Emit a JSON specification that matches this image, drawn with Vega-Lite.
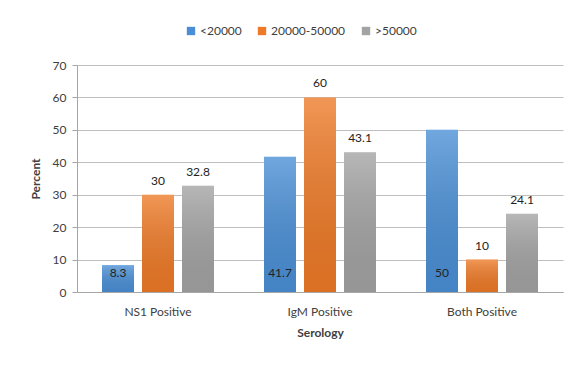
{
  "$schema": "https://vega.github.io/schema/vega-lite/v6.json",
  "width": 486,
  "height": 227,
  "autosize": {"type": "none"},
  "padding": {"left": 77, "top": 65, "right": 13, "bottom": 73},
  "background": "white",
  "config": {
    "font": "Lato",
    "view": {"stroke": null},
    "axis": {"labelColor": "#404040", "titleColor": "#404040", "labelFontSize": 12, "titleFontSize": 12, "titleFontWeight": "bold"}
  },
  "data": {
    "values": [
      {"serology": "NS1 Positive", "group": "<20000", "pct": 8.3},
      {"serology": "NS1 Positive", "group": "20000-50000", "pct": 30},
      {"serology": "NS1 Positive", "group": ">50000", "pct": 32.8},
      {"serology": "IgM Positive", "group": "<20000", "pct": 41.7},
      {"serology": "IgM Positive", "group": "20000-50000", "pct": 60},
      {"serology": "IgM Positive", "group": ">50000", "pct": 43.1},
      {"serology": "Both Positive", "group": "<20000", "pct": 50},
      {"serology": "Both Positive", "group": "20000-50000", "pct": 10},
      {"serology": "Both Positive", "group": ">50000", "pct": 24.1}
    ]
  },
  "encoding": {
    "x": {
      "field": "serology", "type": "nominal",
      "sort": ["NS1 Positive", "IgM Positive", "Both Positive"],
      "scale": {"paddingInner": 0, "paddingOuter": 0},
      "axis": {"title": "Serology", "labelAngle": 0, "ticks": false, "labelPadding": 14, "titlePadding": 10, "domainColor": "#a6a6a6", "labelFontSize": 12}
    },
    "xOffset": {
      "field": "group", "type": "nominal",
      "sort": ["<20000", "20000-50000", ">50000"],
      "scale": {"paddingInner": 0.2, "paddingOuter": 0.625}
    },
    "y": {
      "field": "pct", "type": "quantitative",
      "scale": {"domain": [0, 70], "nice": false},
      "axis": {"title": "Percent", "values": [0, 10, 20, 30, 40, 50, 60, 70], "gridColor": "#bfbfbf", "domainColor": "#a6a6a6", "tickColor": "#a6a6a6", "tickSize": 5, "labelPadding": 6, "titlePadding": 10}
    }
  },
  "layer": [
    {
      "mark": {"type": "bar"},
      "encoding": {
        "color": {
          "field": "group", "type": "nominal",
          "sort": ["<20000", "20000-50000", ">50000"],
          "scale": {"domain": ["<20000", "20000-50000", ">50000"], "range": ["#4a8fd6", "#ee7a27", "#a3a3a3"]},
          "legend": {"title": null, "orient": "none", "legendX": 108, "legendY": -40, "direction": "horizontal", "symbolType": "square", "symbolSize": 70, "labelFontSize": 12, "labelColor": "#404040", "columnPadding": 14, "labelOffset": 3, "padding": 0}
        }
      }
    },
    {
      "mark": {
        "type": "bar",
        "color": {
          "x1": 0, "y1": 0, "x2": 0, "y2": 1, "gradient": "linear",
          "stops": [
            {"offset": 0, "color": "rgba(255,255,255,0.22)"},
            {"offset": 1, "color": "rgba(0,0,0,0.08)"}
          ]
        }
      }
    },
    {
      "transform": [{"filter": "datum.group !== '<20000'"}],
      "mark": {"type": "text", "baseline": "bottom", "dy": -7, "fontSize": 12, "color": "#222222"},
      "encoding": {"text": {"field": "pct", "type": "quantitative"}}
    },
    {
      "transform": [{"filter": "datum.group === '<20000'"}],
      "mark": {"type": "text", "baseline": "middle", "dy": -19, "fontSize": 12, "color": "#222222"},
      "encoding": {"y": {"datum": 0, "type": "quantitative"}, "text": {"field": "pct", "type": "quantitative"}}
    }
  ]
}
